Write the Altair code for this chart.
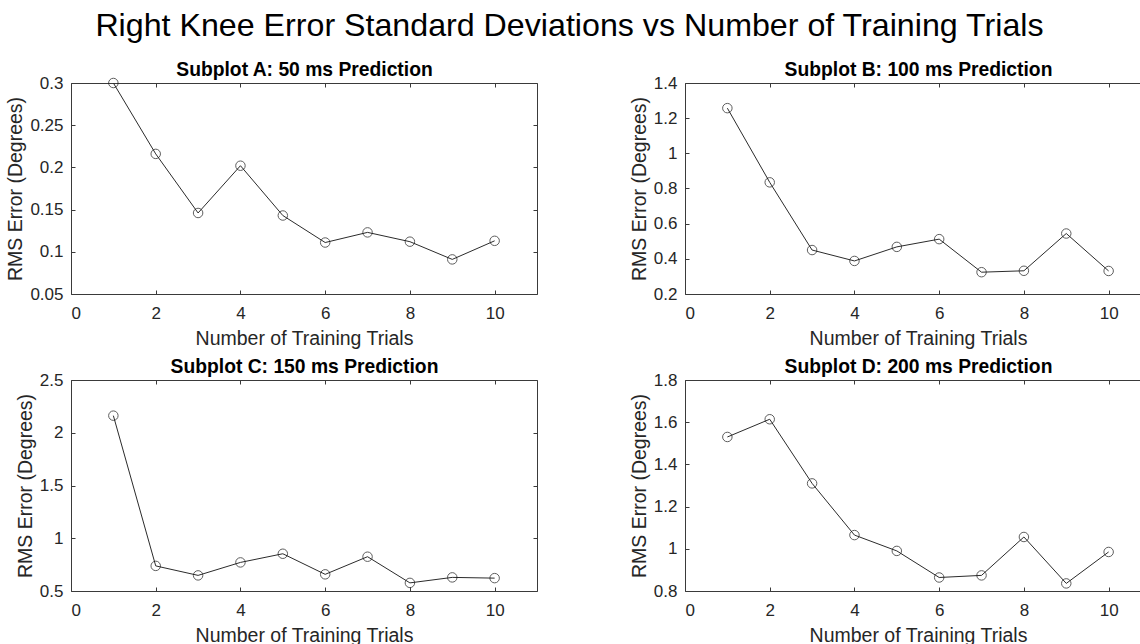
import altair as alt
import pandas as pd

trials = [1, 2, 3, 4, 5, 6, 7, 8, 9, 10]
err_a = [0.300, 0.216, 0.146, 0.202, 0.143, 0.111, 0.123, 0.112, 0.091, 0.113]
err_b = [1.257, 0.835, 0.450, 0.388, 0.468, 0.512, 0.324, 0.332, 0.544, 0.331]
err_c = [2.162, 0.738, 0.648, 0.771, 0.853, 0.658, 0.825, 0.577, 0.629, 0.622]
err_d = [1.530, 1.614, 1.310, 1.065, 0.990, 0.864, 0.874, 1.056, 0.836, 0.985]

titles = ["Subplot A: 50 ms Prediction", "Subplot B: 100 ms Prediction",
          "Subplot C: 150 ms Prediction", "Subplot D: 200 ms Prediction"]
x_ticks = [0, 2, 4, 6, 8, 10]
y_ticks_a = [0.05, 0.1, 0.15, 0.2, 0.25, 0.3]
y_ticks_b = [0.2, 0.4, 0.6, 0.8, 1.0, 1.2, 1.4]
y_ticks_c = [0.5, 1.0, 1.5, 2.0, 2.5]
y_ticks_d = [0.8, 1.0, 1.2, 1.4, 1.6, 1.8]

FONT = "Liberation Sans"
AX = "#262626"
BOX = "#3a3a3a"
H = 211
W_FULL = 466
W_CUT = 455
TICK = 4


def panel(title, vals, yticks, full):
    df = pd.DataFrame({"trial": trials, "err": vals})
    w = W_FULL if full else W_CUT
    xmax = 11 if full else 11 * W_CUT / W_FULL
    xs = alt.Scale(domain=[0, xmax], nice=False, zero=False)
    ys = alt.Scale(domain=[yticks[0], yticks[-1]], nice=False, zero=False)
    base = alt.Chart(df)

    main = base.mark_line(color="#2b2b2b", strokeWidth=1).encode(
        x=alt.X("trial:Q", scale=xs, axis=alt.Axis(
            orient="bottom", values=x_ticks, format="~r", title="Number of Training Trials",
            domain=True, domainColor=BOX, domainWidth=1, ticks=False, tickSize=0,
            labelPadding=11, titlePadding=8, titleX=W_FULL / 2, grid=False,
            minExtent=0)),
        y=alt.Y("err:Q", scale=ys, axis=alt.Axis(
            orient="left", values=yticks, format="~r", title="RMS Error (Degrees)",
            domain=True, domainColor=BOX, domainWidth=1, ticks=False, tickSize=0,
            labelPadding=8, titlePadding=4, grid=False, minExtent=0)),
    )
    pts = base.mark_point(shape="circle", size=90, filled=False, color="#1a1a1a",
                          strokeWidth=1).encode(
        x=alt.X("trial:Q", scale=xs, axis=alt.Axis(
            orient="bottom", values=x_ticks, labels=False, domain=False, ticks=True,
            tickSize=TICK, tickColor=BOX, offset=-TICK, title=None, grid=False,
            minExtent=0)),
        y=alt.Y("err:Q", scale=ys, axis=alt.Axis(
            orient="left", values=yticks, labels=False, domain=False, ticks=True,
            tickSize=TICK, tickColor=BOX, offset=-TICK, title=None, grid=False,
            minExtent=0)),
    )
    top = base.mark_point(opacity=0).encode(
        x=alt.X("trial:Q", scale=xs, axis=alt.Axis(
            orient="top", values=x_ticks, labels=False, domain=False, ticks=True,
            tickSize=TICK, tickColor=BOX, offset=-TICK, grid=False, minExtent=0,
            title=title, titleFontSize=19.3, titleFontWeight="bold", titleColor="#000000",
            titleBaseline="alphabetic", titlePadding=6.6, titleX=W_FULL / 2)),
        y=alt.Y("err:Q", scale=ys, axis=(alt.Axis(
            orient="right", values=yticks, labels=False, domain=False, ticks=True,
            tickSize=TICK, tickColor=BOX, offset=-TICK, title=None, grid=False,
            minExtent=0)
            if full else None)),
    )
    frame = base.mark_point(opacity=0).encode(
        x=alt.X("trial:Q", scale=xs, axis=alt.Axis(
            orient="top", values=x_ticks, labels=False, domain=True, domainColor=BOX,
            domainWidth=1, ticks=False, tickSize=0, title=None, grid=False,
            minExtent=0)),
        y=alt.Y("err:Q", scale=ys, axis=(alt.Axis(
            orient="right", values=yticks, labels=False, domain=True, domainColor=BOX,
            domainWidth=1, ticks=False, tickSize=0, title=None, grid=False,
            minExtent=0)
            if full else None)),
    )
    return alt.layer(main, pts, top, frame).resolve_axis(
        x="independent", y="independent"
    ).properties(width=w, height=H)


chart = alt.concat(
    panel(titles[0], err_a, y_ticks_a, True),
    panel(titles[1], err_b, y_ticks_b, False),
    panel(titles[2], err_c, y_ticks_c, True),
    panel(titles[3], err_d, y_ticks_d, False),
    columns=2,
    spacing=alt.RowColnumber(row=86, column=148),
    bounds="flush",
).properties(
    title=alt.TitleParams(
        text="Right Knee Error Standard Deviations vs Number of Training Trials",
        fontSize=32.2, fontWeight="normal", font=FONT, color="#000000",
        anchor="middle", frame="bounds", baseline="alphabetic", offset=-7, dx=-3.5),
    padding={"left": 5, "top": 9, "right": 0, "bottom": 0},
    background="white",
).configure_view(stroke=None).configure_axis(
    labelFont=FONT, titleFont=FONT, labelFontSize=17, titleFontSize=19.5,
    labelColor=AX, titleColor=AX, titleFontWeight="normal",
)

chart.save("out.html", embed_options={"renderer": "svg", "actions": False})
